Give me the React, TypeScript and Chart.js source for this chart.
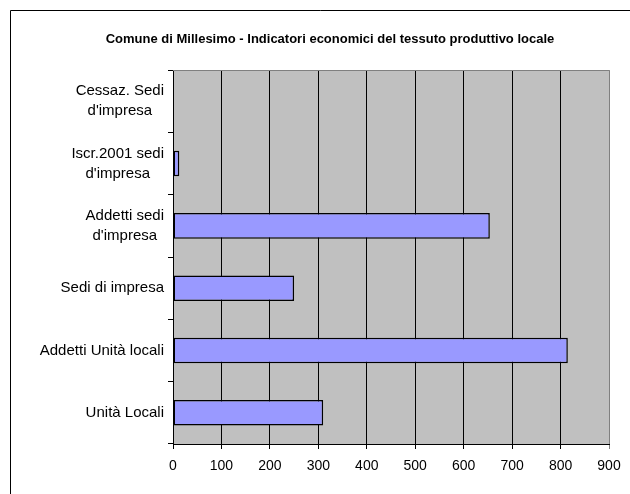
import React, { useEffect, useRef } from "react";
import { Chart, registerables } from "chart.js";

Chart.register(...registerables);

const TITLE = "Comune di Millesimo - Indicatori economici del tessuto produttivo locale";
const categories: string[][] = [
  ["Cessaz. Sedi", "d'impresa"],
  ["Iscr.2001 sedi", "d'impresa"],
  ["Addetti sedi", "d'impresa"],
  ["Sedi di impresa"],
  ["Addetti Unità locali"],
  ["Unità Locali"],
];
const values: number[] = [0, 13, 654, 250, 815, 310];
const xMin = 0;
const xMax = 900;
const xStep = 100;

const FONT = '"Liberation Sans", Arial, sans-serif';

export default function App() {
  const ref = useRef<HTMLCanvasElement | null>(null);

  useEffect(() => {
    if (!ref.current) return;

    const framePlugin = {
      id: "frame",
      beforeDraw(chart: any) {
        const { ctx, chartArea } = chart;
        ctx.save();
        ctx.fillStyle = "#fff";
        ctx.fillRect(0, 0, chart.width, chart.height);
        ctx.strokeStyle = "#000";
        ctx.lineWidth = 1;
        ctx.beginPath();
        ctx.moveTo(10.5, chart.height + 2);
        ctx.lineTo(10.5, 10.5);
        ctx.lineTo(chart.width + 2, 10.5);
        ctx.stroke();
        ctx.fillStyle = "#C0C0C0";
        ctx.fillRect(chartArea.left, chartArea.top, chartArea.right - chartArea.left, chartArea.bottom - chartArea.top);
        ctx.restore();
      },
      beforeDatasetsDraw(chart: any) {
        const { ctx, chartArea } = chart;
        ctx.save();
        ctx.strokeStyle = "#808080";
        ctx.lineWidth = 1;
        ctx.beginPath();
        ctx.moveTo(chartArea.left, Math.round(chartArea.top) + 0.5);
        ctx.lineTo(chartArea.right, Math.round(chartArea.top) + 0.5);
        ctx.stroke();
        ctx.restore();
      },
      afterDraw(chart: any) {
        const { ctx } = chart;
        const yScale = chart.scales.y;
        const rightEdge = 164;
        const lineGap = 20;
        ctx.save();
        ctx.font = "15px " + FONT;
        ctx.fillStyle = "#000";
        ctx.textAlign = "center";
        ctx.textBaseline = "middle";
        categories.forEach((lines, i) => {
          const y = yScale.getPixelForTick(i);
          const widest = Math.max(...lines.map((l) => ctx.measureText(l).width));
          const cx = rightEdge - widest / 2;
          const startY = y - ((lines.length - 1) * lineGap) / 2;
          lines.forEach((l, j) => ctx.fillText(l, cx, startY + j * lineGap));
        });
        ctx.restore();
      },
    };

    const chart = new Chart(ref.current, {
      type: "bar",
      data: {
        labels: categories,
        datasets: [
          {
            data: values,
            backgroundColor: "#9999FF",
            borderColor: "#000",
            borderWidth: 1.5,
            borderSkipped: false,
            barPercentage: 0.41,
            categoryPercentage: 1,
          },
        ],
      },
      options: {
        indexAxis: "y",
        responsive: false,
        animation: false,
        devicePixelRatio: 1,
        layout: { padding: { top: 10, left: 51, right: 21, bottom: 0 } },
        plugins: {
          legend: { display: false },
          tooltip: { enabled: false },
          title: {
            display: true,
            text: TITLE,
            color: "#000",
            font: { family: FONT, size: 13, weight: "bold", lineHeight: 1.2 },
            padding: { top: 22, bottom: 22.5 },
          },
        },
        scales: {
          x: {
            min: xMin,
            max: xMax,
            afterFit: (s: any) => {
              s.height = 50;
            },
            ticks: {
              stepSize: xStep,
              color: "#000",
              font: { family: FONT, size: 14 },
              padding: 9,
              maxRotation: 0,
            },
            grid: {
              color: (c: any) => (c.index === 9 ? "#808080" : "#000"),
              lineWidth: 1,
              tickLength: 5,
              drawTicks: true,
            },
            border: { display: true, color: "#000", width: 1 },
          },
          y: {
            afterFit: (s: any) => {
              s.width = 122;
            },
            ticks: { display: false },
            grid: {
              display: true,
              drawOnChartArea: false,
              drawTicks: true,
              tickLength: 5,
              offset: true,
              color: "#000",
            },
            border: { display: true, color: "#000", width: 1 },
          },
        },
      },
      plugins: [framePlugin],
    });

    return () => chart.destroy();
  }, []);

  return (
    <div style={{ position: "fixed", left: 0, top: 0, width: 630, height: 494, background: "#fff" }}>
      <canvas ref={ref} width={630} height={494} style={{ display: "block", width: 630, height: 494 }} />
    </div>
  );
}
